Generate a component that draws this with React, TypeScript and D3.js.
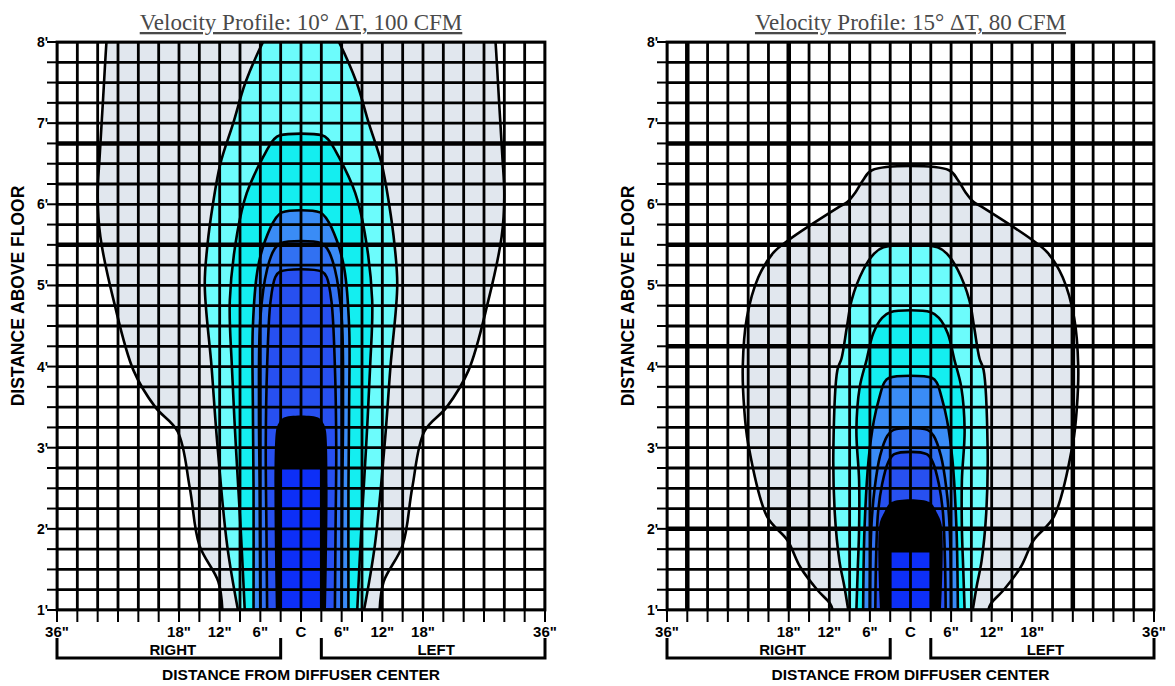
import React from 'react';
import * as d3 from 'd3';

type Pt = [number, number]; // [height in feet, half-width in inches]

const yTickValues = [1, 2, 3, 4, 5, 6, 7, 8];
const yTickLabels = ["1'", "2'", "3'", "4'", "5'", "6'", "7'", "8'"];
const xTickValues = [-36, -18, -12, -6, 0, 6, 12, 18, 36];
const xTickLabels = ['36"', '18"', '12"', '6"', 'C', '6"', '12"', '18"', '36"'];

const bandColors = ['#e1e7ee', '#6cfcfc', '#14eef0', '#3a8cf6', '#3171f2', '#2750f0', '#000000', '#0d2ff7'];

const leftTitle = 'Velocity Profile: 10° ΔT, 100 CFM';
const rightTitle = 'Velocity Profile: 15° ΔT, 80 CFM';

// Left chart: 10° ΔT, 100 CFM
const leftBand1: Pt[] = [[1.0, 11.6], [1.35, 12.2], [1.8, 15.0], [2.5, 16.4], [3.2, 18.2], [3.5, 21.5], [3.95, 24.7], [4.8, 27.6], [5.6, 29.6], [6.1, 30.0], [6.6, 29.7], [7.3, 29.2], [8.0, 28.7], [8.4, 28.3]];
const leftBand2: Pt[] = [[1.0, 9.3], [1.8, 10.9], [3.1, 12.4], [4.0, 13.2], [5.0, 14.2], [5.5, 13.8], [6.0, 13.0], [6.5, 11.9], [7.0, 10.0], [7.5, 8.2], [8.0, 5.6], [8.3, 3.6]];
const leftBand3: Pt[] = [[1.0, 8.3], [2.0, 8.9], [3.0, 9.6], [4.0, 10.2], [4.82, 10.5], [5.65, 9.4], [6.14, 8.0], [6.58, 5.6], [6.8, 4.0], [6.85, 3.1]];
const leftBand4: Pt[] = [[1.0, 7.0], [2.5, 7.0], [3.5, 7.1], [4.5, 7.1], [5.2, 6.4], [5.55, 5.3], [5.82, 3.8], [5.9, 2.8]];
const leftBand5: Pt[] = [[1.0, 6.0], [2.5, 6.1], [3.5, 6.2], [4.6, 6.0], [5.2, 5.0], [5.45, 3.9], [5.52, 3.0]];
const leftBand6: Pt[] = [[1.0, 5.0], [2.0, 5.1], [3.0, 5.2], [4.0, 5.0], [4.8, 4.5], [5.1, 3.8], [5.17, 3.1]];
const leftBand7: Pt[] = [[1.0, 3.7], [3.2, 3.7], [3.3, 3.3], [3.37, 2.6]];
const leftBand8: Pt[] = [[1.0, 3.0], [2.75, 3.0]];

// Right chart: 15° ΔT, 80 CFM
const rightBand1: Pt[] = [[1.0, 11.5], [1.08, 11.9], [1.25, 13.8], [1.53, 16.3], [1.86, 18.2], [2.15, 21.2], [3.05, 24.0], [3.5, 24.6], [4.0, 24.8], [4.6, 24.2], [5.1, 22.5], [5.4, 20.3], [5.56, 18.0], [5.97, 10.5], [6.03, 9.3], [6.14, 8.2], [6.3, 7.0], [6.42, 5.7]];
const rightBand2: Pt[] = [[1.0, 9.2], [1.3, 9.8], [1.6, 10.5], [2.2, 11.2], [3.0, 11.4], [3.96, 10.8], [4.1, 10.2], [4.49, 9.4], [4.82, 8.7], [5.19, 7.0], [5.38, 5.5], [5.47, 4.0]];
const rightBand3: Pt[] = [[1.0, 8.0], [1.5, 7.8], [2.0, 7.6], [2.6, 7.6], [3.22, 8.0], [3.75, 7.5], [4.08, 6.5], [4.41, 5.5], [4.6, 4.2], [4.67, 3.0]];
const rightBand4: Pt[] = [[1.0, 7.0], [2.0, 6.8], [2.85, 6.2], [3.34, 5.4], [3.62, 4.6], [3.8, 3.9], [3.86, 3.2]];
const rightBand5: Pt[] = [[1.0, 6.0], [2.0, 5.8], [2.5, 5.3], [2.9, 4.5], [3.15, 3.4], [3.22, 2.5]];
const rightBand6: Pt[] = [[1.0, 5.2], [1.6, 5.1], [2.2, 4.8], [2.55, 4.2], [2.82, 3.3], [2.92, 2.4]];
const rightBand7: Pt[] = [[1.0, 4.5], [2.05, 4.6], [2.2, 3.9], [2.33, 2.8]];
const rightBand8: Pt[] = [[1.0, 2.9], [1.71, 2.9]];

const leftBands = [leftBand1, leftBand2, leftBand3, leftBand4, leftBand5, leftBand6, leftBand7, leftBand8];
const rightBands = [rightBand1, rightBand2, rightBand3, rightBand4, rightBand5, rightBand6, rightBand7, rightBand8];

const TOP = 42;
const BOTTOM = 610;
const SANS = "'Liberation Sans', Arial, Helvetica, sans-serif";
const SERIF = "'Liberation Serif', 'Times New Roman', serif";

interface ChartCfg {
  id: string;
  title: string;
  bands: Pt[][];
  x0: number;
  x1: number;
  thickH: number[];
  thickV: number[];
  yLabelX: number;
}

const charts: ChartCfg[] = [
  { id: 'l', title: leftTitle, bands: leftBands, x0: 57, x1: 545, thickH: [5, 10], thickV: [], yLabelX: 18 },
  { id: 'r', title: rightTitle, bands: rightBands, x0: 667, x1: 1154, thickH: [5, 10, 15, 24], thickV: [1, 6, 20], yLabelX: 628 },
];

function Chart({ cfg }: { cfg: ChartCfg }) {
  const x = d3.scaleLinear().domain([-36, 36]).range([cfg.x0, cfg.x1]);
  const y = d3.scaleLinear().domain([1, 8]).range([BOTTOM, TOP]);
  const cx = x(0);
  const smooth = d3.line<[number, number]>().curve(d3.curveCatmullRom.alpha(0.5));
  const straight = d3.line<[number, number]>();

  const paths = cfg.bands.map((b) => {
    const s = [...b].sort((p, q) => p[0] - q[0]);
    const pts: [number, number][] = [
      ...s.map(([f, h]) => [x(h), y(f)] as [number, number]),
      ...s.slice().reverse().map(([f, h]) => [x(-h), y(f)] as [number, number]),
    ];
    const gen = s.length <= 2 ? straight : smooth;
    return (gen(pts) || '') + 'Z';
  });

  const vLines = d3.range(0, 25).map((i) => -36 + i * 3);
  const hLines = d3.range(0, 29).map((i) => 8 - i * 0.25);
  const clipId = 'clip-' + cfg.id;

  return (
    <g>
      <defs>
        <clipPath id={clipId}>
          <rect x={cfg.x0} y={TOP} width={cfg.x1 - cfg.x0} height={BOTTOM - TOP} />
        </clipPath>
      </defs>
      <text x={cx} y={30} textAnchor="middle" fontFamily={SERIF} fontSize={23} fill="#4a4a4a" textDecoration="underline">
        {cfg.title}
      </text>
      <rect x={cfg.x0} y={TOP} width={cfg.x1 - cfg.x0} height={BOTTOM - TOP} fill="#ffffff" />
      <g clipPath={`url(#${clipId})`}>
        {paths.map((d, i) => (
          <path key={'f' + i} d={d} fill={bandColors[i]} stroke="none" />
        ))}
        {vLines.map((v, i) => (
          <line key={'v' + i} x1={x(v)} x2={x(v)} y1={TOP} y2={BOTTOM} stroke="#000" strokeWidth={cfg.thickV.includes(i) ? 4.5 : 2.8} />
        ))}
        {hLines.map((f, i) => (
          <line key={'h' + i} x1={cfg.x0} x2={cfg.x1} y1={y(f)} y2={y(f)} stroke="#000" strokeWidth={cfg.thickH.includes(i) ? 4.5 : 2.8} />
        ))}
        {paths.slice(0, 6).map((d, i) => (
          <path key={'s' + i} d={d} fill="none" stroke="#000" strokeWidth={2.6} strokeLinejoin="round" />
        ))}
      </g>
      <rect x={cfg.x0} y={TOP} width={cfg.x1 - cfg.x0} height={BOTTOM - TOP} fill="none" stroke="#000" strokeWidth={2.8} />
      {hLines.map((f, i) => (
        <line key={'yt' + i} x1={cfg.x0 - 10} x2={cfg.x0} y1={y(f)} y2={y(f)} stroke="#000" strokeWidth={2} />
      ))}
      {yTickValues.map((v, i) => (
        <text key={'yl' + i} x={cfg.x0 - 9} y={y(v)} dy="0.36em" textAnchor="end" fontFamily={SANS} fontWeight="bold" fontSize={14} fill="#000">
          {yTickLabels[i]}
        </text>
      ))}
      {vLines.map((v, i) => (
        <line key={'xt' + i} x1={x(v)} x2={x(v)} y1={BOTTOM} y2={BOTTOM + 12} stroke="#000" strokeWidth={2} />
      ))}
      {xTickValues.map((v, i) => (
        <text key={'xl' + i} x={x(v)} y={637} textAnchor="middle" fontFamily={SANS} fontWeight="bold" fontSize={15} fill="#000">
          {xTickLabels[i]}
        </text>
      ))}
      <path d={`M${x(-36)},638V658H${x(-3)}V638`} fill="none" stroke="#000" strokeWidth={3} />
      <path d={`M${x(3)},638V658H${x(36)}V638`} fill="none" stroke="#000" strokeWidth={3} />
      <text x={(x(-36) + x(-3)) / 2 + 4} y={655} textAnchor="middle" fontFamily={SANS} fontWeight="bold" fontSize={15} fill="#000">RIGHT</text>
      <text x={(x(3) + x(36)) / 2 + 3} y={655} textAnchor="middle" fontFamily={SANS} fontWeight="bold" fontSize={15} fill="#000">LEFT</text>
      <text x={cx} y={680} textAnchor="middle" fontFamily={SANS} fontWeight="bold" fontSize={15.5} fill="#000">DISTANCE FROM DIFFUSER CENTER</text>
      <text transform={`translate(${cfg.yLabelX},296) rotate(-90)`} textAnchor="middle" dy="0.36em" fontFamily={SANS} fontWeight="bold" fontSize={17.5} fill="#000">
        DISTANCE ABOVE FLOOR
      </text>
    </g>
  );
}

export default function App() {
  return (
    <svg width={1175} height={686} style={{ position: 'absolute', left: 0, top: 0, background: '#fff' }}>
      <rect x={0} y={0} width={1175} height={686} fill="#fff" />
      {charts.map((c) => (
        <Chart key={c.id} cfg={c} />
      ))}
    </svg>
  );
}
